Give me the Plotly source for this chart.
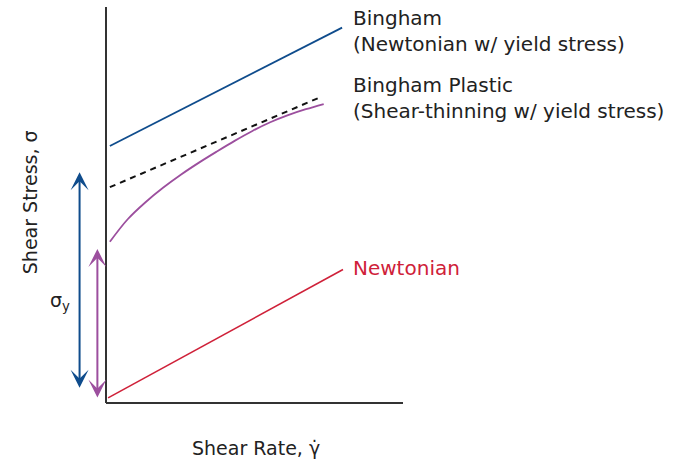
import plotly.graph_objects as go

# ---- data (in chart units: both axes 0..10) ----
bingham_x = [0.13, 7.95]
bingham_y = [6.49, 9.48]

asym_x = [0.13, 7.21]
asym_y = [5.45, 7.72]

plastic_x = [0.13, 0.73, 1.33, 1.93, 2.53, 3.13, 3.73, 4.33, 4.93, 5.53, 6.13, 6.73, 7.33]
plastic_y = [4.07, 4.64, 5.07, 5.44, 5.77, 6.07, 6.35, 6.62, 6.87, 7.09, 7.27, 7.42, 7.55]

newton_x = [0.07, 7.98]
newton_y = [0.13, 3.37]

# yield-stress arrows: x position, bottom, top
arrow_blue = (-0.89, 0.35, 5.83)
arrow_purple = (-0.29, 0.10, 3.89)

axis_len = 10

BLUE = "#0f4c8c"
PURPLE = "#9c4f9e"
RED = "#cf2139"
FONT = "DejaVu Sans"
FS_LABEL = 20
FS_AXIS = 19

fig = go.Figure()
fig.add_trace(go.Scatter(x=bingham_x, y=bingham_y, mode="lines",
                         line=dict(color=BLUE, width=1.8)))
fig.add_trace(go.Scatter(x=asym_x, y=asym_y, mode="lines",
                         line=dict(color="#111111", width=2, dash="6px,5px")))
fig.add_trace(go.Scatter(x=plastic_x, y=plastic_y, mode="lines",
                         line=dict(color=PURPLE, width=1.8, shape="spline", smoothing=1.0)))
fig.add_trace(go.Scatter(x=newton_x, y=newton_y, mode="lines",
                         line=dict(color=RED, width=1.6)))

# axes drawn as lines
fig.add_shape(type="line", x0=0, y0=0, x1=0, y1=axis_len, xref="x", yref="y",
              line=dict(color="#333333", width=2))
fig.add_shape(type="line", x0=0, y0=0, x1=axis_len, y1=0, xref="x", yref="y",
              line=dict(color="#333333", width=2))

for (ax_x, y0, y1), col in [(arrow_blue, BLUE), (arrow_purple, PURPLE)]:
    fig.add_annotation(x=ax_x, y=y1, ax=ax_x, ay=y0, xref="x", yref="y",
                       axref="x", ayref="y", text="", showarrow=True,
                       arrowhead=3, startarrowhead=3, arrowside="end+start",
                       arrowsize=1.5, startarrowsize=1.5, arrowwidth=2,
                       arrowcolor=col, standoff=0, startstandoff=0)

labels = [
    ("Bingham", 8.26, 9.72, "#222222"),
    ("(Newtonian w/ yield stress)", 8.26, 9.07, "#222222"),
    ("Bingham Plastic", 8.26, 8.03, "#222222"),
    ("(Shear-thinning w/ yield stress)", 8.26, 7.37, "#222222"),
    ("Newtonian", 8.26, 3.41, RED),
]
for txt, x, y, col in labels:
    fig.add_annotation(x=x, y=y, xref="x", yref="y", text=txt, showarrow=False,
                       xanchor="left", yanchor="middle",
                       font=dict(family=FONT, size=FS_LABEL, color=col))

fig.add_annotation(x=5.05, y=-1.14, xref="x", yref="y", text="Shear Rate, \u03b3\u0307",
                   showarrow=False, xanchor="center", yanchor="middle",
                   font=dict(family=FONT, size=FS_AXIS, color="#222222"))
fig.add_annotation(x=-2.56, y=5.07, xref="x", yref="y", text="Shear Stress, \u03c3",
                   showarrow=False, textangle=-90, xanchor="center", yanchor="middle",
                   font=dict(family=FONT, size=FS_AXIS, color="#222222"))
fig.add_annotation(x=-1.55, y=2.56, xref="x", yref="y", text="\u03c3<sub>y</sub>",
                   showarrow=False, xanchor="center", yanchor="middle",
                   font=dict(family=FONT, size=FS_AXIS, color="#222222"))

W, H = 678, 461
x0_px, y0_px, sx, sy = 106, 403, 29.7, 39.6
fig.update_layout(
    width=W, height=H, margin=dict(l=0, r=0, t=0, b=0),
    paper_bgcolor="white", plot_bgcolor="white", showlegend=False,
    xaxis=dict(visible=False, range=[-x0_px / sx, (W - x0_px) / sx], fixedrange=True),
    yaxis=dict(visible=False, range=[-(H - y0_px) / sy, y0_px / sy], fixedrange=True),
)
fig.write_html("out.html", config={"displayModeBar": False},
               post_script="document.body.style.margin='0';document.body.style.overflow='hidden';")
